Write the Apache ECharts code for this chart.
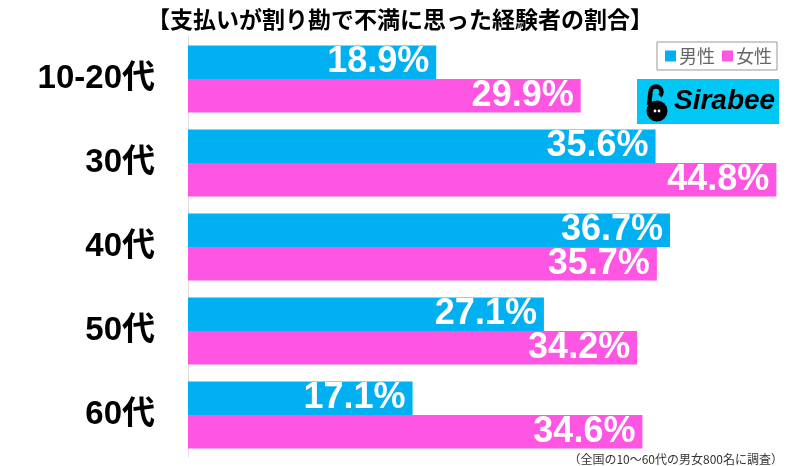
<!DOCTYPE html>
<html>
<head>
<meta charset="utf-8">
<script src="https://cdn.jsdelivr.net/npm/echarts@6/dist/echarts.min.js"></script>
<style>
html,body{margin:0;padding:0;background:#fff;}
#chart{width:800px;height:466px;}
</style>
</head>
<body>
<div id="chart"></div>
<script>
const titleText = '【支払いが割り勘で不満に思った経験者の割合】';
const categories = ['10-20代', '30代', '40代', '50代', '60代'];
const seriesNames = ['男性', '女性'];
const maleValues = [18.9, 35.6, 36.7, 27.1, 17.1];
const femaleValues = [29.9, 44.8, 35.7, 34.2, 34.6];
const footnote = '（全国の10〜60代の男女800名に調査）';
const logoText = 'Sirabee';

const BLUE = '#00B0F0';
const PINK = '#FF55E3';
const numFont = '"Liberation Sans", Arial, "Noto Sans CJK JP", sans-serif';
const jpFont = '"Noto Sans CJK JP", "Liberation Sans", sans-serif';

const chart = echarts.init(document.getElementById('chart'));
const labelCfg = {
  show: true,
  position: 'insideRight',
  distance: 7,
  color: '#fff',
  fontFamily: numFont,
  fontWeight: 'bold',
  fontSize: 36,
  formatter: p => p.value.toFixed(1) + '%'
};
chart.setOption({
  animation: false,
  title: {
    text: titleText,
    left: 'center',
    top: 3,
    textStyle: { fontFamily: jpFont, fontWeight: 'bold', fontSize: 23, color: '#000' }
  },
  legend: {
    data: seriesNames,
    left: 657,
    top: 42,
    width: 120,
    height: 30,
    padding: [5, 5, 5, 8],
    borderColor: '#999',
    borderWidth: 1,
    itemWidth: 11,
    itemHeight: 11,
    itemGap: 7,
    icon: 'rect',
    textStyle: { fontFamily: jpFont, fontSize: 18, color: '#666', padding: [0, 0, 0, -2] }
  },
  grid: { left: 188, right: 21, top: 37, bottom: 9, containLabel: false },
  xAxis: {
    type: 'value', min: 0, max: 45, show: false
  },
  yAxis: {
    type: 'category',
    data: categories,
    inverse: true,
    axisLine: { show: true, lineStyle: { color: '#ddd', width: 1 } },
    axisTick: { show: false },
    axisLabel: {
      margin: 33, color: '#000', fontFamily: numFont, fontWeight: 'bold', fontSize: 33
    }
  },
  series: [
    { name: seriesNames[0], type: 'bar', data: maleValues, barWidth: 33.5, barGap: '0%',
      itemStyle: { color: BLUE }, label: labelCfg },
    { name: seriesNames[1], type: 'bar', data: femaleValues, barWidth: 33.5, barGap: '0%',
      itemStyle: { color: PINK }, label: labelCfg }
  ],
  graphic: [
    { type: 'rect', shape: { x: 637, y: 79, width: 142, height: 45 }, style: { fill: '#00C8F5' } },
    { type: 'circle', shape: { cx: 657, cy: 111, r: 10.5 }, style: { fill: '#000' } },
    { type: 'line', shape: { x1: 649, y1: 105, x2: 650.5, y2: 92 }, style: { stroke: '#000', lineWidth: 4.5 } },
    { type: 'arc', shape: { cx: 656, cy: 92, r: 5.5, startAngle: Math.PI, endAngle: Math.PI * 2.25 },
      style: { fill: 'none', stroke: '#000', lineWidth: 4.5 } },
    { type: 'circle', shape: { cx: 655, cy: 111, r: 1.4 }, style: { fill: '#fff' } },
    { type: 'circle', shape: { cx: 659, cy: 111, r: 1.4 }, style: { fill: '#fff' } },
    { type: 'text', x: 674, y: 87, style: { text: logoText, font: 'italic bold 28px "Liberation Sans", Arial, sans-serif', fill: '#000' } },
    { type: 'text', x: 783, y: 453, style: { text: footnote, fontFamily: jpFont, fontSize: 12, fill: '#333', align: 'right' } }
  ]
});
</script>
</body>
</html>
